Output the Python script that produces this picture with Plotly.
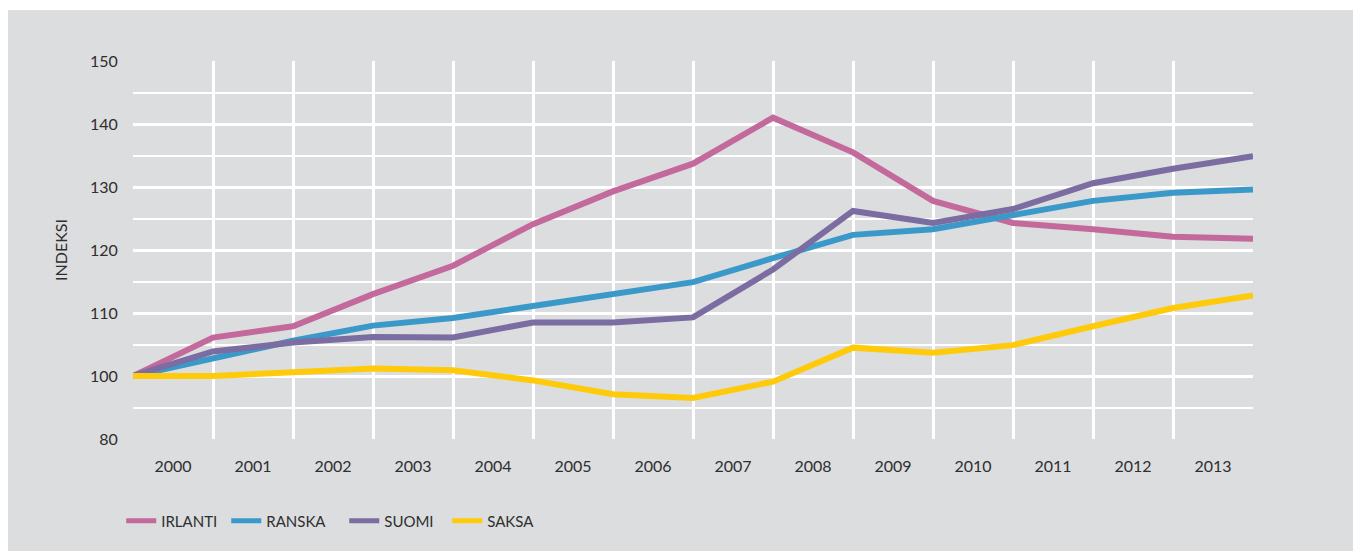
import plotly.graph_objects as go

# Data (index, 2000 = 100); 15 points per series
points = list(range(15))
irlanti = [100, 106.1, 107.9, 113.0, 117.5, 124.1, 129.3, 133.7, 141.0, 135.5, 127.8, 124.3, 123.3, 122.1, 121.8]
ranska  = [100, 102.8, 105.6, 108.0, 109.2, 111.1, 112.9, 114.9, 118.7, 122.4, 123.3, 125.6, 127.8, 129.1, 129.6]
suomi   = [100, 103.9, 105.3, 106.2, 106.1, 108.5, 108.5, 109.3, 116.9, 126.2, 124.3, 126.5, 130.6, 132.9, 134.9]
saksa   = [100, 100.0, 100.6, 101.2, 100.9, 99.3, 97.1, 96.5, 99.1, 104.5, 103.7, 104.9, 107.9, 110.8, 112.8]

series_names = ["IRLANTI", "RANSKA", "SUOMI", "SAKSA"]
series_colors = ["#c3699c", "#3b99ca", "#7b6ca1", "#ffca0a"]
legend_widths = [60, 73, 58, 60]

year_labels = ["2000", "2001", "2002", "2003", "2004", "2005", "2006",
               "2007", "2008", "2009", "2010", "2011", "2012", "2013"]
year_label_pos = [i + 0.5 for i in range(len(year_labels))]

y_tick_vals = [90, 100, 110, 120, 130, 140, 150]
y_tick_text = ["80", "100", "110", "120", "130", "140", "150"]
y_minor_vals = [95, 105, 115, 125, 135, 145]

BG = "#dcdddf"
FONT = "Lato, 'Open Sans', sans-serif"
TEXT = "#2e2e2e"

W, H = 1353, 543
ML, MR, MT, MB = 125, 108, 53, 112
PW, PH = W - ML - MR, H - MT - MB

fig = go.Figure()
for name, vals, col, lw in zip(series_names, [irlanti, ranska, suomi, saksa], series_colors, legend_widths):
    fig.add_trace(go.Scatter(
        x=points, y=vals, name=name, mode="lines",
        line=dict(color=col, width=6), legendwidth=lw,
    ))

fig.update_layout(
    width=W, height=H,
    margin=dict(l=ML, r=MR, t=MT, b=MB),
    paper_bgcolor="white",
    plot_bgcolor="rgba(0,0,0,0)",
    font=dict(family=FONT, size=16, color=TEXT),
    shapes=[dict(type="rect", xref="paper", yref="paper",
                 x0=-ML / PW, x1=(W - ML) / PW,
                 y0=-MB / PH, y1=(PH + MT - 2) / PH,
                 fillcolor=BG, line=dict(width=0), layer="below")],
    showlegend=True,
    legend=dict(orientation="h", x=-0.0105, xanchor="left", y=-0.217, yanchor="middle",
                font=dict(family=FONT, size=15, color=TEXT),
                bgcolor="rgba(0,0,0,0)", itemsizing="constant"),
)

fig.update_xaxes(
    range=[0, 14], tickmode="array", tickvals=year_label_pos, ticktext=year_labels,
    showgrid=False, zeroline=False, showline=False,
    ticks="outside", ticklen=13, tickcolor="rgba(0,0,0,0)",
    tickfont=dict(family=FONT, size=16, color=TEXT),
    minor=dict(tickmode="array", tickvals=points, showgrid=True,
               gridcolor="white", gridwidth=2.5, ticks=""),
)
fig.update_yaxes(
    range=[90, 150], tickmode="array", tickvals=y_tick_vals, ticktext=y_tick_text,
    showgrid=True, gridcolor="white", gridwidth=2.5, zeroline=False, showline=False,
    ticks="outside", ticklen=11, tickcolor="rgba(0,0,0,0)",
    tickfont=dict(family=FONT, size=16, color=TEXT),
    title=dict(text="INDEKSI", font=dict(family=FONT, size=16, color=TEXT), standoff=18),
    minor=dict(tickmode="array", tickvals=y_minor_vals, showgrid=True,
               gridcolor="white", gridwidth=2, ticks=""),
)

fig.write_html("out.html")
